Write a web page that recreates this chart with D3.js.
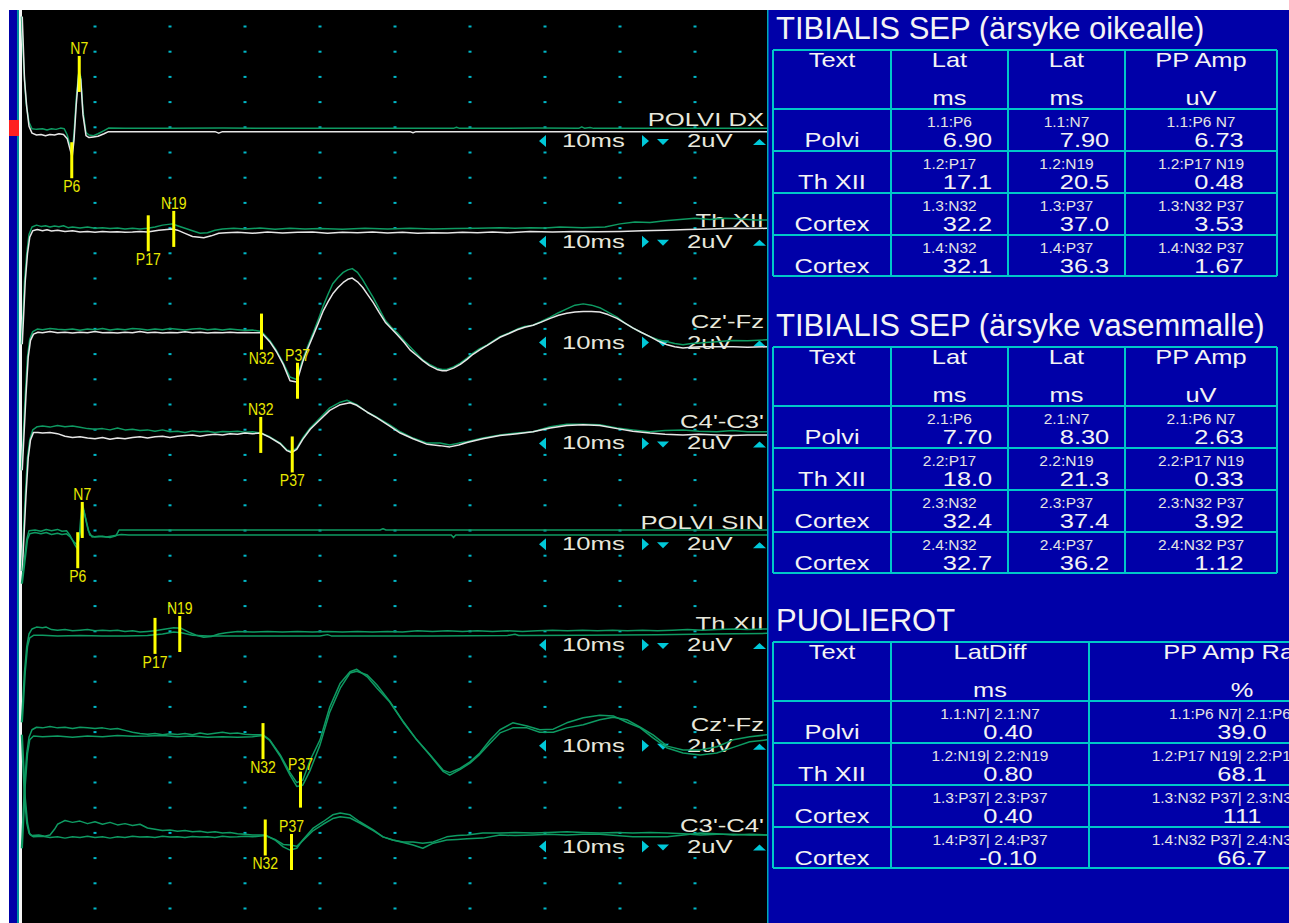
<!DOCTYPE html>
<html>
<head>
<meta charset="utf-8">
<script src="https://cdn.jsdelivr.net/npm/d3@7"></script>
<style>
html, body { margin: 0; padding: 0; background: #fff; overflow: hidden; }
</style>
</head>
<body>
<div id="chart"></div>
<script>
// ---- channel labels ----
var chanNames = ["POLVI DX", "Th XII", "Cz'-Fz", "C4'-C3'", "POLVI SIN", "Th XII", "Cz'-Fz", "C3'-C4'"];
var timeLabel = "10ms";
var gainLabel = "2uV";

// ---- traces: [ms, uV] ----
var ch1Green = [[0.2,9],[0.5,5],[0.8,2.2],[1.2,0.6],[1.6,0.1],[2.2,0.05],[3,0.1],[3.6,0],[4.2,0.1],[4.8,0.05],[5.4,0.15],[5.9,0.1],[6.3,-0.4],[6.7,-1.3],[6.95,-1.75],[7.2,-0.3],[7.5,2.5],[7.85,4.7],[8.1,4.2],[8.4,1.5],[8.8,-0.2],[9.2,-0.4],[9.8,-0.45],[10.4,-0.3],[11.2,-0.05],[11.8,0.15],[14,0.13],[20,0.13],[27,0.15],[34,0.13],[46,0.13],[52,0.14],[57.8,0.13],[58.2,0.22],[58.6,0.13],[69,0.15],[74.5,0.13],[74.9,0.25],[75.3,0.13],[76,0.2],[76.5,0.13],[86,0.13],[92,0.14],[99.6,0.13]];
var ch1White = [[0.3,9],[0.6,4],[0.9,1.8],[1.2,0.3],[1.6,-0.25],[2.2,-0.4],[2.8,-0.35],[3.4,-0.45],[4,-0.35],[4.6,-0.4],[5.2,-0.3],[5.8,-0.35],[6.3,-0.7],[6.7,-1.6],[6.95,-2.15],[7.2,-0.8],[7.5,2],[7.85,4.6],[8.1,4],[8.4,1.2],[8.8,-0.45],[9.2,-0.6],[9.8,-0.55],[10.4,-0.5],[11.2,-0.3],[11.8,-0.13],[18,-0.13],[26,-0.13],[26.5,-0.25],[27,-0.13],[40,-0.13],[52,-0.13],[52.4,-0.22],[52.8,-0.13],[65,-0.13],[78,-0.13],[91,-0.13],[99.6,-0.13]];
var ch2Green = [[0.2,-9],[0.6,-4],[0.9,-1.8],[1.2,-0.3],[1.6,0.3],[2.2,0.45],[2.8,0.35],[3.4,0.4],[4,0.3],[4.6,0.38],[5.2,0.32],[5.8,0.4],[6.4,0.25],[7,0.3],[8,0.22],[9,0.3],[10,0.2],[11,0.25],[12,0.18],[13,0.22],[14,0.15],[15,0.2],[16,0.15],[17,0.2],[18,0.3],[19,0.45],[20.3,0.55],[21,0.4],[22,0.2],[23,0],[24,-0.2],[25,-0.15],[26,0.05],[27,0.15],[28.5,0.2],[30,0.15],[32,0.22],[34,0.12],[36,0.2],[38,0.15],[40,0.18],[43,0.12],[46,0.2],[49,0.15],[52,0.2],[55,0.15],[58,0.18],[61,0.2],[64,0.25],[66,0.2],[68,0.25],[70,0.22],[72,0.3],[75,0.25],[78,0.3],[80,0.55],[82,0.7],[84,0.65],[86,0.8],[88,0.9],[90,1.0],[92,0.9],[94,1.0],[96,0.95],[98,0.85],[99.6,0.85]];
var ch2White = [[0.3,-9],[0.7,-4],[1,-1.8],[1.3,-0.5],[1.7,0],[2.3,0.1],[3,0],[3.6,0.08],[4.2,-0.02],[5,0.05],[6,-0.05],[7,0],[8,-0.1],[9,-0.05],[10,-0.12],[11,-0.05],[12,-0.1],[13,-0.08],[14,-0.12],[15,-0.1],[16,-0.05],[17,-0.1],[18.5,0.05],[20.3,0.15],[21,0.05],[22,-0.2],[23,-0.45],[24.5,-0.55],[25.5,-0.4],[26.5,-0.2],[27.5,-0.15],[29,-0.12],[31,-0.2],[33,-0.1],[35,-0.18],[37,-0.12],[39,-0.1],[41,-0.2],[43,-0.12],[45,-0.15],[47,-0.1],[49,-0.18],[51,-0.12],[53,-0.2],[55,-0.15],[57,-0.18],[59,-0.12],[61,-0.15],[63,-0.1],[65,-0.15],[68,-0.05],[71,-0.1],[74,-0.05],[77,-0.08],[80,-0.05],[83,0],[86,0.05],[89,0.1],[92,0.15],[95,0.2],[98,0.18],[99.6,0.2]];
var ch3Green = [[0.2,-11],[0.7,-5],[1,-2],[1.3,-0.6],[1.7,0],[2.3,0.2],[3,0.15],[4,0.25],[5,0.18],[6,0.15],[7,0.2],[8,0.1],[9,0.2],[10,0.15],[11,0.25],[12,0.12],[13,0.2],[14,0.15],[15,0.25],[16,0.2],[17,0.12],[18,0.2],[19,0.15],[20,0.25],[21,0.18],[22,0.12],[23,0.2],[24,0.25],[25,0.15],[26,0.2],[27,0.12],[28,0.2],[29,0.15],[30,0.1],[31,0.12],[32.2,0],[33.3,-0.7],[34.2,-1.5],[35.1,-2.5],[36,-3.6],[36.9,-3.8],[37.7,-2.2],[38.4,-1.1],[39.1,-0.1],[39.8,1],[40.4,2],[41.1,3],[41.7,3.8],[42.4,4.3],[43.1,4.7],[43.7,4.9],[44.3,5],[45,4.7],[45.7,4.1],[46.4,3.4],[47.1,2.7],[47.9,1.8],[48.7,0.9],[49.5,0.35],[50.3,-0.1],[51.2,-0.7],[52,-1.2],[52.9,-1.75],[53.7,-2.25],[54.6,-2.6],[55.6,-2.9],[56.3,-3],[56.9,-3],[57.8,-2.8],[58.7,-2.5],[59.6,-2.1],[60.4,-1.7],[61.3,-1.35],[62.3,-1.05],[63.2,-0.7],[64,-0.4],[65.2,-0.1],[66.3,0.2],[67.3,0.4],[68.4,0.5],[69.5,0.8],[70.7,1.15],[71.8,1.5],[72.9,1.8],[74,2.1],[75.1,2.2],[76.2,2.1],[77.3,1.9],[78.4,1.55],[79.6,1.15],[80.6,0.7],[81.7,0.3],[82.8,-0.05],[84,-0.4],[85.1,-0.65],[86.3,-0.8],[87.3,-0.95],[88.4,-1.05],[89.5,-0.95],[90.7,-0.9],[91.8,-0.85],[92.9,-0.8],[94,-0.75],[95.1,-0.7],[97,-0.72],[99.6,-0.65]];
var ch3White = [[0.3,-11],[0.8,-5],[1.1,-2],[1.4,-0.7],[1.8,-0.2],[2.4,-0.05],[3,-0.1],[4,0],[5,-0.1],[6,-0.05],[7,-0.12],[8,-0.05],[9,-0.1],[10,0],[11,-0.1],[12,-0.08],[13,-0.12],[14,-0.05],[15,-0.1],[16,0],[17,-0.1],[18,-0.05],[19,-0.12],[20,-0.08],[21,-0.1],[22,-0.02],[23,-0.1],[24,-0.05],[25,-0.12],[26,-0.08],[27,-0.1],[28,-0.05],[29,-0.1],[30,-0.08],[31,-0.1],[32.2,-0.1],[33.3,-0.8],[34.2,-1.6],[35.1,-2.6],[36,-3.9],[36.9,-4],[37.7,-2.4],[38.4,-1.3],[39.1,-0.3],[39.8,0.7],[40.4,1.6],[41.1,2.4],[41.7,3],[42.4,3.5],[43.1,3.9],[43.7,4.15],[44.3,4.25],[45,3.95],[45.7,3.5],[46.4,2.9],[47.1,2.3],[47.9,1.5],[48.7,0.75],[49.5,0.25],[50.3,-0.25],[51.2,-0.85],[52,-1.45],[52.9,-1.9],[53.7,-2.3],[54.6,-2.7],[55.6,-3],[56.3,-3.1],[56.9,-3.1],[57.8,-2.9],[58.7,-2.6],[59.6,-2.2],[60.4,-1.8],[61.3,-1.45],[62.3,-1.1],[63.2,-0.75],[64,-0.45],[65.2,-0.15],[66.3,0.15],[67.3,0.35],[68.4,0.5],[69.5,0.75],[70.7,1.05],[71.8,1.3],[72.9,1.45],[74,1.55],[75.1,1.6],[76.2,1.6],[77.3,1.55],[78.4,1.35],[79.6,1.05],[80.6,0.7],[81.7,0.3],[82.8,-0.05],[84,-0.4],[85.1,-0.75],[86.3,-1.05],[87.3,-1.2],[88.4,-1.3],[89.5,-1.25],[90.7,-1.2],[92.9,-1.2],[95.1,-1.2],[97,-1.25],[99.6,-1.2]];
var ch4Green = [[0.2,-11],[0.7,-5],[1,-2],[1.3,-0.6],[1.7,0.2],[2.3,0.45],[3,0.5],[4,0.42],[5,0.55],[6,0.45],[7,0.5],[8,0.4],[9,0.3],[10,0.25],[11,0.3],[12,0.2],[13,0.35],[14,0.2],[15,0.25],[16,0.15],[17,0.2],[18,0.1],[19,0.2],[20,0.05],[21,0.1],[22,0],[23,0.12],[24,0.05],[25,0.1],[26,0],[27,0.08],[28,0.05],[29,0.1],[30,0.02],[31,0.05],[32.1,-0.05],[33.3,-0.35],[34.7,-0.85],[35.6,-1.4],[36.2,-1.5],[36.9,-1.25],[37.7,-0.45],[38.7,0.35],[40,1.15],[41.3,1.95],[42.7,2.4],[43.6,2.55],[44.9,2.2],[46.3,1.6],[47.6,1.2],[49.3,0.6],[50.7,0.05],[52.4,-0.45],[54.3,-0.85],[56,-0.85],[57.3,-1],[58.5,-0.85],[59.6,-0.75],[61.7,-0.45],[64,-0.2],[66.3,-0.05],[68.4,0.05],[70.7,0.45],[72.9,0.65],[75.1,0.65],[77.3,0.6],[79.6,0.35],[81.7,0.2],[84,0.05],[86,0.15],[88.4,0.2],[90.5,0.1],[92.9,0.05],[95,0.15],[97,0.05],[99.6,0.05]];
var ch4White = [[0.3,-11],[0.8,-5],[1.1,-2],[1.4,-0.6],[1.8,0],[2.4,0],[3,-0.05],[4,0],[5,-0.1],[6,-0.3],[7,-0.4],[8,-0.35],[9,-0.45],[10,-0.5],[11,-0.4],[12,-0.55],[13,-0.45],[14,-0.5],[15,-0.4],[16,-0.35],[17,-0.45],[18,-0.35],[19,-0.3],[20,-0.4],[21,-0.3],[22,-0.25],[23,-0.2],[24,-0.3],[25,-0.2],[26,-0.15],[27,-0.2],[28,-0.1],[29,-0.15],[30,-0.05],[31,-0.1],[32.1,-0.05],[33.3,-0.4],[34.7,-0.9],[35.6,-1.45],[36.2,-1.6],[36.9,-1.35],[37.7,-0.55],[38.7,0.25],[40,1],[41.3,1.75],[42.7,2.2],[44,2.35],[44.9,2.15],[46.3,1.6],[47.6,1.15],[49.3,0.5],[50.7,-0.05],[52.4,-0.5],[54.3,-0.95],[56,-1.05],[57.3,-1.15],[58.5,-1],[59.6,-0.8],[61.7,-0.5],[64,-0.25],[66.3,-0.1],[68.4,0.05],[70.7,0.35],[72.9,0.55],[75.1,0.6],[77.3,0.55],[79.6,0.3],[81.7,0.1],[84,-0.05],[86,-0.15],[88.4,-0.2],[90.5,-0.15],[92.9,-0.2],[95,-0.25],[97,-0.2],[99.6,-0.2]];
var ch5A = [[0.2,-4],[0.6,-2],[0.9,-0.5],[1.2,0.2],[2,0.25],[2.8,0.15],[3.5,0.3],[4.2,0.2],[5,0.3],[5.6,0.15],[6.2,0.2],[6.7,-0.2],[7.2,-0.8],[7.6,-1.2],[7.9,-0.3],[8.1,1.2],[8.3,2.4],[8.6,1.6],[8.9,0.8],[9.3,-0.15],[10,-0.3],[11,-0.25],[12,-0.35],[12.8,-0.2],[13.2,0.25],[20,0.25],[30,0.25],[40,0.25],[48,0.25],[48.4,0.35],[48.8,0.25],[60,0.25],[75,0.25],[90,0.25],[99.6,0.25]];
var ch5B = [[0.3,-4],[0.7,-2],[1,-0.5],[1.3,-0.05],[2,0.05],[2.8,-0.05],[3.5,0.05],[4.2,-0.1],[5,0],[5.6,-0.1],[6.2,-0.05],[6.7,-0.3],[7.2,-0.7],[7.7,-0.95],[8,0],[8.25,1],[8.5,1.8],[8.8,1],[9.1,0.2],[9.6,-0.3],[10.5,-0.25],[11.5,-0.3],[12.5,-0.2],[13.5,-0.1],[14.5,-0.15],[30,-0.15],[55,-0.15],[57.5,-0.15],[57.8,-0.35],[58.1,-0.15],[80,-0.15],[99.6,-0.15]];
var ch6A = [[0.2,-7],[0.6,-3],[0.9,-1],[1.2,0],[1.6,0.4],[2.2,0.55],[3,0.5],[3.5,0.55],[4.2,0.35],[5,0.3],[6,0.35],[7,0.25],[8,0.3],[9,0.35],[10,0.25],[11,0.3],[12,0.25],[13,0.3],[14,0.2],[15,0.25],[16,0.15],[17,0.2],[18,0.25],[19,0.35],[20.5,0.5],[21.5,0.45],[22.5,0.15],[23.5,-0.1],[24.5,-0.25],[25.5,-0.2],[26.5,0],[27.5,0.1],[29,0.2],[31,0.15],[33,0.2],[35,0.15],[37,0.2],[39,0.15],[41,0.2],[43,0.15],[45,0.2],[47,0.15],[49,0.2],[51,0.15],[53,0.25],[55,0.2],[57,0.25],[59,0.2],[61,0.25],[63,0.2],[65,0.25],[67,0.2],[69,0.25],[71,0.3],[73,0.25],[75,0.3],[77,0.25],[79,0.3],[81,0.25],[83,0.3],[85,0.25],[87,0.3],[89,0.35],[91,0.3],[93,0.35],[95,0.4],[97,0.35],[99.6,0.4]];
var ch6B = [[0.3,-7],[0.7,-3],[1,-1],[1.3,-0.3],[1.8,-0.1],[3,-0.1],[5,-0.15],[8,-0.12],[11,-0.15],[14,-0.15],[17,-0.12],[19,0],[20.5,0.15],[21.5,0.1],[23,-0.1],[25,-0.15],[30,-0.15],[40,-0.15],[41,-0.05],[41.5,-0.15],[55,-0.15],[65,-0.12],[66,-0.02],[66.5,-0.12],[75,-0.1],[85,-0.05],[92,0],[99.6,0.05]];
var ch7A = [[0.2,-9],[0.6,-4],[0.9,-1.5],[1.2,-0.2],[1.6,0.4],[2.2,0.6],[3,0.55],[4,0.65],[5,0.55],[6,0.6],[7,0.5],[8,0.6],[9,0.55],[10,0.5],[11,0.55],[12,0.45],[13,0.5],[14,0.35],[15,0.2],[16,0.1],[17,0.05],[18,0.1],[19,0],[20,0.08],[21,0.02],[22,0.1],[23,0],[24,0.15],[25,0.05],[26,0.12],[27,0.2],[28,0.1],[29,0.15],[30,0.05],[31,0],[32.4,0],[33.3,-0.4],[34.7,-1.6],[36,-3],[36.9,-3.8],[37.7,-3.6],[38.7,-2],[40,-0.4],[41.3,2.2],[42.7,4.1],[44,5],[44.9,5.2],[46.3,4.6],[47.6,3.7],[49.3,2.6],[51.1,1],[52.9,-0.4],[54.7,-1.6],[56.4,-2.8],[57.3,-3],[58.7,-2.65],[60,-2.15],[61.3,-1.45],[62.7,-0.4],[64,0.4],[65.7,0.95],[67.6,0.7],[69.3,0.4],[71.1,0.45],[72.9,0.95],[75.1,1.35],[77.3,1.55],[79.1,1.5],[80.9,1],[82.7,0.55],[84.4,-0.25],[86.3,-1.05],[88.4,-1.45],[90.7,-1.6],[92.9,-1.45],[95.1,-1],[97.3,-0.55],[99.6,-0.4]];
var ch7B = [[0.3,-9],[0.7,-4],[1,-1.5],[1.3,-0.4],[1.8,-0.1],[3,-0.15],[5,-0.1],[7,-0.2],[9,-0.1],[11,-0.15],[13,-0.05],[15,-0.12],[17,-0.1],[19,-0.05],[21,-0.15],[23,-0.1],[25,-0.2],[27,-0.15],[29,-0.2],[31,-0.15],[32.4,-0.05],[33.3,-0.45],[34.7,-1.7],[36,-3.2],[36.9,-4.1],[37.7,-4],[38.7,-2.8],[40,-0.8],[41.3,1.8],[42.7,3.7],[44,4.9],[44.9,5.05],[46.3,4.75],[47.6,3.95],[49.3,2.65],[51.1,1.05],[52.9,-0.4],[54.7,-1.65],[56.4,-2.9],[57.3,-3.2],[58.7,-2.75],[60,-2.25],[61.3,-1.55],[62.7,-0.65],[64,0.15],[65.7,0.55],[67.6,0.55],[69.3,0.2],[71.1,0.2],[72.9,0.55],[75.1,0.8],[77.3,1.2],[79.1,1.4],[80.9,1.2],[82.7,0.6],[84.4,0],[86.3,-0.9],[88.4,-1.2],[90.7,-1.2],[92.9,-0.95],[95.1,-0.4],[97.3,-0.15],[99.6,0]];
var ch8A = [[0.2,8],[0.6,3],[0.9,1],[1.2,0.2],[1.6,0],[2.5,0.05],[3.3,-0.05],[4,0.05],[4.6,0.5],[5,0.9],[5.5,1.05],[6,1.2],[7,1.05],[8,1.15],[9,0.95],[10,1.1],[11,0.9],[12,1.05],[13,0.85],[14,0.95],[15,0.8],[16,0.9],[17,0.6],[18,0.5],[19,0.4],[20,0.45],[21,0.35],[22,0.4],[23,0.3],[24,0.35],[25,0.25],[26,0.3],[27,0.2],[28,0.25],[29,0.15],[30,0.1],[31,0.05],[32.7,0.05],[34,-0.35],[35.1,-0.9],[36,-1.15],[36.9,-1],[37.7,-0.35],[39.1,0.6],[40.4,1.1],[41.7,1.65],[42.7,1.8],[44,1.65],[45.3,1.1],[47.1,0.45],[48.4,-0.1],[49.7,-0.35],[51.1,-0.5],[52.4,-0.5],[53.7,-0.6],[55.1,-0.5],[56.9,-0.1],[58.3,0],[59.6,0.05],[61.7,0.2],[64,0.2],[66,0.25],[68.4,0.2],[70.5,0.25],[72.9,0.3],[75,0.25],[77.3,0.2],[79.5,0.25],[81.7,0.2],[84,0.25],[86.3,0.2],[88.5,0.15],[90.7,0.05],[92.9,0.1],[95.1,0.1],[97.3,0.05],[99.6,0.05]];
var ch8B = [[0.3,8],[0.7,3],[1,1],[1.3,0.1],[1.8,-0.1],[3,-0.05],[4,-0.15],[5,-0.1],[6,-0.2],[7,-0.1],[8,-0.15],[9,-0.05],[10,-0.15],[11,-0.1],[12,-0.2],[13,-0.1],[14,-0.15],[15,-0.05],[16,-0.12],[17,-0.1],[18,-0.15],[19,-0.05],[20,-0.12],[21,-0.1],[22,-0.15],[23,-0.08],[24,-0.12],[25,-0.1],[26,-0.15],[27,-0.05],[28,-0.12],[29,-0.1],[30,-0.05],[31,-0.1],[32.7,0],[34,-0.3],[35.1,-0.7],[36,-0.75],[36.9,-0.85],[37.7,-0.4],[39.1,0.4],[40.4,0.9],[41.7,1.35],[42.7,1.5],[44,1.4],[45.3,1],[47.1,0.4],[48.4,-0.1],[49.7,-0.35],[51.1,-0.55],[52.4,-0.75],[53.7,-1],[55.1,-0.6],[56.9,-0.35],[58.3,-0.3],[59.6,-0.25],[61.7,-0.2],[64,0.05],[66,0],[68.4,0.05],[70.5,0.1],[72.9,0.05],[75,0.1],[77.3,0.1],[79.5,0],[81.7,-0.1],[84,-0.1],[86.3,-0.1],[88.5,0.05],[90.7,0.2],[92.9,0.15],[95.1,0.05],[97.3,0.1],[99.6,0.05]];

// ---- markers ----
var markerChan = [0, 0, 1, 1, 2, 2, 3, 3, 4, 4, 5, 5, 6, 6, 7, 7];
var markerName = ["P6", "N7", "P17", "N19", "N32", "P37", "N32", "P37", "P6", "N7", "P17", "N19", "N32", "P37", "N32", "P37"];
var markerLat = [6.9, 7.9, 17.1, 20.5, 32.2, 37.0, 32.1, 36.3, 7.7, 8.3, 18.0, 21.3, 32.4, 37.4, 32.7, 36.2];
var markerAmp = [-2.4, 4.45, -0.2, 0.15, 0, -3.9, -0.2, -1.75, -1.35, 1.05, -0.15, 0, -0.5, -4.35, -0.15, -1.3];
var markerSide = ["below", "above", "below", "above", "below", "above", "above", "below", "below", "above", "below", "above", "below", "above", "below", "above"];

// ---- tables ----
var t1Title = "TIBIALIS SEP (ärsyke oikealle)";
var t2Title = "TIBIALIS SEP (ärsyke vasemmalle)";
var t3Title = "PUOLIEROT";
var rowNames = ["Polvi", "Th XII", "Cortex", "Cortex"];
var latHeaders = ["Text", "Lat", "Lat", "PP Amp"];
var latUnits = ["", "ms", "ms", "uV"];
var t1Refs = [["1.1:P6", "1.1:N7", "1.1:P6 N7"], ["1.2:P17", "1.2:N19", "1.2:P17 N19"], ["1.3:N32", "1.3:P37", "1.3:N32 P37"], ["1.4:N32", "1.4:P37", "1.4:N32 P37"]];
var t1Vals = [["6.90", "7.90", "6.73"], ["17.1", "20.5", "0.48"], ["32.2", "37.0", "3.53"], ["32.1", "36.3", "1.67"]];
var t2Refs = [["2.1:P6", "2.1:N7", "2.1:P6 N7"], ["2.2:P17", "2.2:N19", "2.2:P17 N19"], ["2.3:N32", "2.3:P37", "2.3:N32 P37"], ["2.4:N32", "2.4:P37", "2.4:N32 P37"]];
var t2Vals = [["7.70", "8.30", "2.63"], ["18.0", "21.3", "0.33"], ["32.4", "37.4", "3.92"], ["32.7", "36.2", "1.12"]];
var diffHeaders = ["Text", "LatDiff", "PP Amp Ratio"];
var diffUnits = ["", "ms", "%"];
var t3Refs = [["1.1:N7| 2.1:N7", "1.1:P6 N7| 2.1:P6 N7"], ["1.2:N19| 2.2:N19", "1.2:P17 N19| 2.2:P17 N19"], ["1.3:P37| 2.3:P37", "1.3:N32 P37| 2.3:N32 P37"], ["1.4:P37| 2.4:P37", "1.4:N32 P37| 2.4:N32 P37"]];
var t3Vals = [["0.40", "39.0"], ["0.80", "68.1"], ["0.40", "111"], ["-0.10", "66.7"]];

// ---- drawing ----
var W = 1289, H = 923;
var SANS = "'Liberation Sans', Arial, sans-serif";
var svg = d3.select("#chart").append("svg")
    .attr("width", W).attr("height", H)
    .style("display", "block");

var x = d3.scaleLinear().domain([0, 100]).range([20, 770]);
var gridRow = d3.scaleLinear().domain([0, 35]).range([26.5, 908.5]);
var chanY = d3.scaleLinear().domain([0, 7]).range([130, 835.6]);
function yScale(ch) {
    // 2 uV per division
    return d3.scaleLinear().domain([0, 2]).range([chanY(ch), chanY(ch) - 25.2]);
}

function wtext(sel, tx, ty, str, o) {
    return sel.append("text")
        .attr("transform", "translate(" + tx + "," + ty + ") scale(" + (o.sx || 1) + ",1)")
        .attr("text-anchor", o.anchor || "start")
        .attr("font-family", SANS)
        .attr("font-size", o.size)
        .attr("fill", o.fill)
        .text(str);
}

// frame
svg.append("rect").attr("width", W).attr("height", H).attr("fill", "#fff");
svg.append("rect").attr("x", 20).attr("y", 10).attr("width", 750).attr("height", H - 10).attr("fill", "#000");
svg.append("rect").attr("x", 9).attr("y", 10).attr("width", 8).attr("height", H - 10).attr("fill", "#0000A8");
svg.append("rect").attr("x", 17).attr("y", 10).attr("width", 2).attr("height", H - 10).attr("fill", "#0090A0");
svg.append("rect").attr("x", 9).attr("y", 120).attr("width", 10).attr("height", 16).attr("fill", "#FF2020");
svg.append("rect").attr("x", 19.5).attr("y", 10).attr("width", 2.5).attr("height", H - 10).attr("fill", "#f4f4f4");

// grid dots
var gridG = svg.append("g");
d3.range(10, 100, 10).forEach(function(t) {
    d3.range(0, 36).forEach(function(r) {
        gridG.append("rect")
            .attr("x", x(t) - 1.5).attr("y", gridRow(r) - 1)
            .attr("width", 3).attr("height", 2)
            .attr("fill", "#00B8C8");
    });
});

// channel labels
var labG = svg.append("g");
chanNames.forEach(function(name, i) {
    var b = chanY(i);
    wtext(labG, 764, b - 4, name, {size: 19, sx: 1.35, anchor: "end", fill: "#E8E8DC"});
    wtext(labG, 562, b + 17, timeLabel, {size: 19, sx: 1.35, fill: "#E8E8DC"});
    wtext(labG, 687, b + 17, gainLabel, {size: 19, sx: 1.35, fill: "#E8E8DC"});
    var tri = "#00C8D8";
    labG.append("path").attr("d", "M539," + (b + 11) + "L546," + (b + 5) + "L546," + (b + 17) + "Z").attr("fill", tri);
    labG.append("path").attr("d", "M649," + (b + 11) + "L642," + (b + 5) + "L642," + (b + 17) + "Z").attr("fill", tri);
    labG.append("path").attr("d", "M657," + (b + 9) + "L669," + (b + 9) + "L663," + (b + 15) + "Z").attr("fill", tri);
    labG.append("path").attr("d", "M753," + (b + 15) + "L766," + (b + 15) + "L759.5," + (b + 9) + "Z").attr("fill", tri);
});

// traces
svg.append("clipPath").attr("id", "plotClip")
    .append("rect").attr("x", 20).attr("y", 10).attr("width", 747).attr("height", H - 10);
var traceG = svg.append("g").attr("clip-path", "url(#plotClip)");
var GREEN = "#0E9A62", WHITE = "#E6E6E6";
var traces = [
    {ch: 0, pts: ch1Green, c: GREEN}, {ch: 0, pts: ch1White, c: WHITE},
    {ch: 1, pts: ch2Green, c: GREEN}, {ch: 1, pts: ch2White, c: WHITE},
    {ch: 2, pts: ch3Green, c: GREEN}, {ch: 2, pts: ch3White, c: WHITE},
    {ch: 3, pts: ch4Green, c: GREEN}, {ch: 3, pts: ch4White, c: WHITE},
    {ch: 4, pts: ch5A, c: GREEN}, {ch: 4, pts: ch5B, c: GREEN},
    {ch: 5, pts: ch6A, c: GREEN}, {ch: 5, pts: ch6B, c: GREEN},
    {ch: 6, pts: ch7A, c: GREEN}, {ch: 6, pts: ch7B, c: GREEN},
    {ch: 7, pts: ch8A, c: GREEN}, {ch: 7, pts: ch8B, c: GREEN}
];
traces.forEach(function(tr) {
    var y = yScale(tr.ch);
    var line = d3.line().x(function(d) { return x(d[0]); }).y(function(d) { return y(d[1]); });
    traceG.append("path").datum(tr.pts)
        .attr("d", line)
        .attr("fill", "none")
        .attr("stroke", tr.c)
        .attr("stroke-width", 1.5)
        .attr("stroke-linejoin", "round");
});

// markers
var markG = svg.append("g");
markerName.forEach(function(name, i) {
    var y = yScale(markerChan[i]);
    var mx = x(markerLat[i]), my = y(markerAmp[i]);
    markG.append("rect").attr("x", mx - 1.5).attr("y", my - 18).attr("width", 3).attr("height", 36).attr("fill", "#FFFF00");
    var ty = markerSide[i] == "above" ? my - 20 : my + 32;
    wtext(markG, mx, ty, name, {size: 16.5, sx: 0.85, anchor: "middle", fill: "#E8E800"});
});

// right panel
var panel = svg.append("g");
panel.append("rect").attr("x", 767).attr("y", 10).attr("width", W - 767).attr("height", H - 10).attr("fill", "#0000A8");
panel.append("rect").attr("x", 767).attr("y", 10).attr("width", 1.5).attr("height", H - 10).attr("fill", "#00A8B8");

var rowEdges = [0, 59, 101, 143, 185, 226];
function drawTable(top, title, cols, headers, units, refs, vals, valDx) {
    var g = panel.append("g");
    wtext(g, 776, top - 11, title, {size: 31, fill: "#F4F4F4"});
    var centers = d3.range(cols.length - 1).map(function(i) { return (cols[i] + cols[i + 1]) / 2; });
    headers.forEach(function(h, i) {
        wtext(g, centers[i], top + 17, h, {size: 20.5, sx: 1.24, anchor: "middle", fill: "#F4F4F4"});
        if (units[i]) wtext(g, centers[i], top + 55, units[i], {size: 20.5, sx: 1.24, anchor: "middle", fill: "#F4F4F4"});
    });
    rowNames.forEach(function(rn, r) {
        var rt = top + rowEdges[r + 1];
        wtext(g, centers[0], rt + 38, rn, {size: 20.5, sx: 1.24, anchor: "middle", fill: "#F4F4F4"});
        refs[r].forEach(function(ref, c) {
            wtext(g, centers[c + 1], rt + 18, ref, {size: 15.5, anchor: "middle", fill: "#E4E4E4"});
            wtext(g, centers[c + 1] + valDx[c], rt + 38, vals[r][c], {size: 20.5, sx: 1.24, anchor: "middle", fill: "#F4F4F4"});
        });
    });
    var lc = "#00C8C8";
    rowEdges.forEach(function(e) {
        g.append("line").attr("x1", cols[0]).attr("x2", cols[cols.length - 1])
            .attr("y1", top + e).attr("y2", top + e).attr("stroke", lc).attr("stroke-width", 2);
    });
    cols.forEach(function(c) {
        g.append("line").attr("x1", c).attr("x2", c)
            .attr("y1", top).attr("y2", top + rowEdges[rowEdges.length - 1]).attr("stroke", lc).attr("stroke-width", 2);
    });
}
drawTable(50, t1Title, [773, 891, 1008, 1125, 1277], latHeaders, latUnits, t1Refs, t1Vals, [18, 18, 18]);
drawTable(347, t2Title, [773, 891, 1008, 1125, 1277], latHeaders, latUnits, t2Refs, t2Vals, [18, 18, 18]);
// the third column runs past the screen edge, as in the original screenshot
drawTable(642, t3Title, [773, 891, 1089, 1395], diffHeaders, diffUnits, t3Refs, t3Vals, [18, 0]);
</script>
</body>
</html>
